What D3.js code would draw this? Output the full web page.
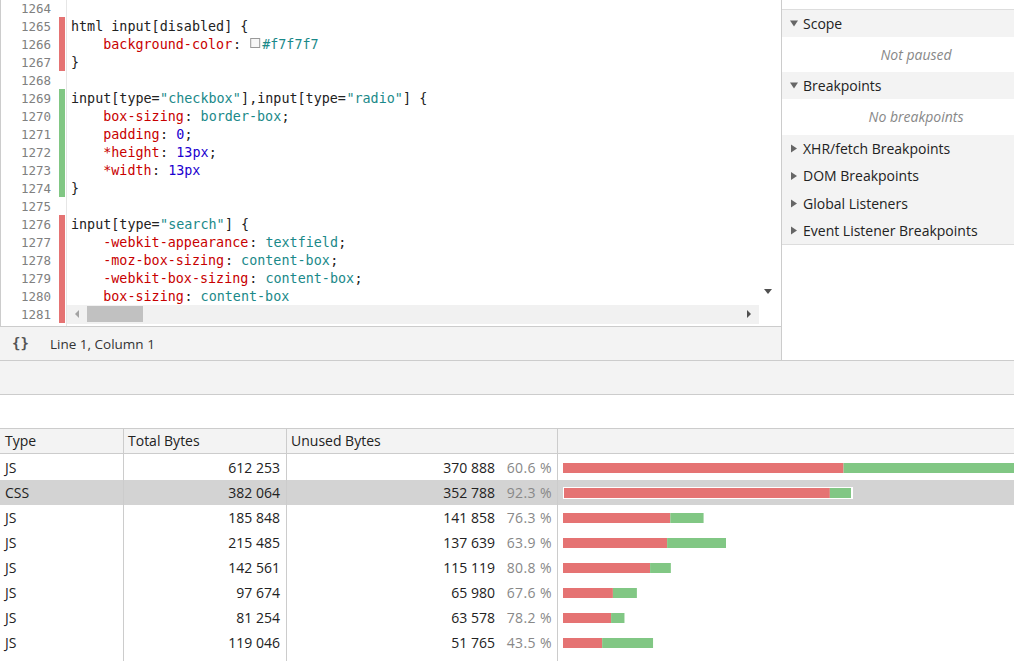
<!DOCTYPE html>
<html><head><meta charset="utf-8">
<script src="https://cdn.jsdelivr.net/npm/d3@7"></script>
<style>body{margin:0;background:#fff;overflow:hidden}</style></head>
<body><svg id="c" width="1014" height="661"></svg>
<script>
const lineNumbers = d3.range(1264, 1282);
const codeLines = [
  [],
  [["html input[disabled] {","s"]],
  [["    background-color","p"],[": ","x"],["SW",""],["#f7f7f7","v"]],
  [["}","s"]],
  [],
  [["input[type=","s"],["\"checkbox\"","v"],["],input[type=","s"],["\"radio\"","v"],["] {","s"]],
  [["    box-sizing","p"],[": ","x"],["border-box","v"],[";","x"]],
  [["    padding","p"],[": ","x"],["0","n"],[";","x"]],
  [["    *height","p"],[": ","x"],["13px","n"],[";","x"]],
  [["    *width","p"],[": ","x"],["13px","n"]],
  [["}","s"]],
  [],
  [["input[type=","s"],["\"search\"","v"],["] {","s"]],
  [["    -webkit-appearance","p"],[": ","x"],["textfield","v"],[";","x"]],
  [["    -moz-box-sizing","p"],[": ","x"],["content-box","v"],[";","x"]],
  [["    -webkit-box-sizing","p"],[": ","x"],["content-box","v"],[";","x"]],
  [["    box-sizing","p"],[": ","x"],["content-box","v"]],
  []
];
const gutterMarks = [null,"u","u","u",null,"c","c","c","c","c","c",null,"u","u","u","u","u","u"];
const sidebarItems = [["Scope","h",true],["Not paused","e"],["Breakpoints","h",true],["No breakpoints","e"],["XHR/fetch Breakpoints","h",false],["DOM Breakpoints","h",false],["Global Listeners","h",false],["Event Listener Breakpoints","h",false]];
const types = ["JS","CSS","JS","JS","JS","JS","JS","JS"];
const totalBytes = [612253,382064,185848,215485,142561,97674,81254,119046];
const unusedBytes = [370888,352788,141858,137639,115119,65980,63578,51765];
const headers = ["Type","Total Bytes","Unused Bytes",""];

const RED="#e57373", GREEN="#81c784";
const svg=d3.select("#c");
const ui="'Open Sans','Noto Sans',sans-serif";
const mono="'DejaVu Sans Mono',monospace";
const fmt=n=>d3.format(",")(n).replace(/,/g," ");

const ly=d3.scaleLinear().domain([1264,1265]).range([8,26]);
svg.append("line").attr("x1",0.5).attr("x2",0.5).attr("y1",0).attr("y2",361).attr("stroke","#ccc");
svg.append("line").attr("x1",66.5).attr("x2",66.5).attr("y1",0).attr("y2",326).attr("stroke","#e6e6e6");
const colors={s:"#222",p:"#c80000",v:"#1a8989",n:"#1c00cf",x:"#222"};
const cw=8.1;
lineNumbers.forEach((ln,i)=>{
  const y=ly(ln);
  svg.append("text").attr("x",51).attr("y",y+5).attr("text-anchor","end").attr("font-family",mono).attr("font-size",12.5).attr("fill","#808080").text(ln);
  if(gutterMarks[i]) svg.append("rect").attr("x",59).attr("y",y-9).attr("width",6).attr("height",18).attr("fill",gutterMarks[i]=="u"?RED:GREEN);
  let x=71;
  codeLines[i].forEach(([t,k])=>{
    if(t==="SW"){svg.append("rect").attr("x",x+1.5).attr("y",y-5.5).attr("width",9).attr("height",9).attr("fill","#f7f7f7").attr("stroke","#999");x+=cw*1.6;return;}
    svg.append("text").attr("x",x).attr("y",y+5).attr("font-family",mono).attr("font-size",13.4).attr("fill",colors[k]).style("white-space","pre").text(t);
    x+=t.length*cw;
  });
});
svg.append("rect").attr("x",67).attr("y",305).attr("width",692).attr("height",19).attr("fill","#f1f1f1");
svg.append("rect").attr("x",87).attr("y",306).attr("width",56).attr("height",16).attr("fill","#c1c1c1");
svg.append("path").attr("d","M79,310 L75,314 L79,318Z").attr("fill","#a3a3a3");
svg.append("path").attr("d","M747,310 L751,314 L747,318Z").attr("fill","#505050");
svg.append("path").attr("d","M764,289 L772,289 L768,294Z").attr("fill","#505050");
svg.append("rect").attr("x",0).attr("y",326).attr("width",781).attr("height",34).attr("fill","#f3f3f3");
svg.append("line").attr("x1",0).attr("x2",781).attr("y1",326.5).attr("y2",326.5).attr("stroke","#ccc");
svg.append("text").attr("x",12).attr("y",348).attr("font-family",mono).attr("font-weight","bold").attr("font-size",14).attr("fill","#555").text("{}");
svg.append("text").attr("x",50).attr("y",349).attr("font-family",ui).attr("font-size",13.5).attr("fill","#333").text("Line 1, Column 1");
svg.append("line").attr("x1",781.5).attr("x2",781.5).attr("y1",0).attr("y2",360).attr("stroke","#ccc");
const sb=[[10,37],[37,72],[72,99],[99,135],[135,162],[162,190],[190,217],[217,244]];
svg.append("line").attr("x1",782).attr("x2",1014).attr("y1",9.5).attr("y2",9.5).attr("stroke","#ddd");
sidebarItems.forEach(([t,k,open],i)=>{
  const [a,b]=sb[i],m=(a+b)/2;
  svg.append("rect").attr("x",782).attr("y",a).attr("width",232).attr("height",b-a).attr("fill",k=="h"?"#f3f3f3":"#fff");
  svg.append("line").attr("x1",782).attr("x2",1014).attr("y1",b+0.5).attr("y2",b+0.5).attr("stroke","#ddd");
  if(k=="h"){
    svg.append("path").attr("d",open?`M790,${m-3} L798,${m-3} L794,${m+3}Z`:`M791,${m-4} L797,${m} L791,${m+4}Z`).attr("fill","#666");
    svg.append("text").attr("x",803).attr("y",m+5).attr("font-family",ui).attr("font-size",14).attr("fill","#222").text(t);
  } else {
    svg.append("text").attr("x",916).attr("y",m+5).attr("text-anchor","middle").attr("font-family",ui).attr("font-style","italic").attr("font-size",14).attr("fill","#888").text(t);
  }
});
svg.append("rect").attr("x",0).attr("y",361).attr("width",1014).attr("height",33).attr("fill","#f3f3f3");
svg.append("line").attr("x1",0).attr("x2",1014).attr("y1",360.5).attr("y2",360.5).attr("stroke","#ccc");
svg.append("line").attr("x1",0).attr("x2",1014).attr("y1",394.5).attr("y2",394.5).attr("stroke","#ccc");
const colX=[0,123,286,557];
svg.append("rect").attr("x",0).attr("y",428).attr("width",1014).attr("height",25).attr("fill","#f3f3f3");
svg.append("line").attr("x1",0).attr("x2",1014).attr("y1",428.5).attr("y2",428.5).attr("stroke","#ccc");
svg.append("line").attr("x1",0).attr("x2",1014).attr("y1",453.5).attr("y2",453.5).attr("stroke","#ccc");
headers.forEach((h,i)=>svg.append("text").attr("x",colX[i]+5).attr("y",446).attr("font-family",ui).attr("font-size",14).attr("fill","#222").text(h));
const y=d3.scaleBand().domain(d3.range(types.length)).range([455,655]);
const x=d3.scaleLinear().domain([0,382064]).range([563,852]);
const g=svg.append("g");
types.forEach((t,i)=>{
  const top=y(i),m=top+12.5;
  if(t==="CSS") g.append("rect").attr("x",0).attr("y",top).attr("width",1014).attr("height",25).attr("fill","#d3d3d3");
  g.append("text").attr("x",5).attr("y",m+5).attr("font-family",ui).attr("font-size",14).attr("fill","#222").text(t);
  g.append("text").attr("x",280).attr("y",m+5).attr("text-anchor","end").attr("font-family",ui).attr("font-size",14).attr("fill","#222").text(fmt(totalBytes[i]));
  g.append("text").attr("x",495).attr("y",m+5).attr("text-anchor","end").attr("font-family",ui).attr("font-size",14).attr("fill","#222").text(fmt(unusedBytes[i]));
  g.append("text").attr("x",552).attr("y",m+5).attr("text-anchor","end").attr("font-family",ui).attr("font-size",14).attr("fill","#888").attr("letter-spacing",0.4).text((unusedBytes[i]/totalBytes[i]*100).toFixed(1)+" %");
  const by=m-4.5;
  if(t==="CSS") g.append("rect").attr("x",x(0)).attr("y",by-1).attr("width",x(totalBytes[i])-x(0)+1).attr("height",12).attr("fill","#fff");
  const ins=t==="CSS"?1:0;
  g.append("rect").attr("x",x(0)+ins).attr("y",by).attr("width",x(unusedBytes[i])-x(0)-ins).attr("height",10).attr("fill",RED);
  g.append("rect").attr("x",x(unusedBytes[i])).attr("y",by).attr("width",x(totalBytes[i])-x(unusedBytes[i])-ins).attr("height",10).attr("fill",GREEN);
});
[123,286,557].forEach(c=>svg.append("line").attr("x1",c+0.5).attr("x2",c+0.5).attr("y1",428).attr("y2",661).attr("stroke","#ccc"));
</script></body></html>
